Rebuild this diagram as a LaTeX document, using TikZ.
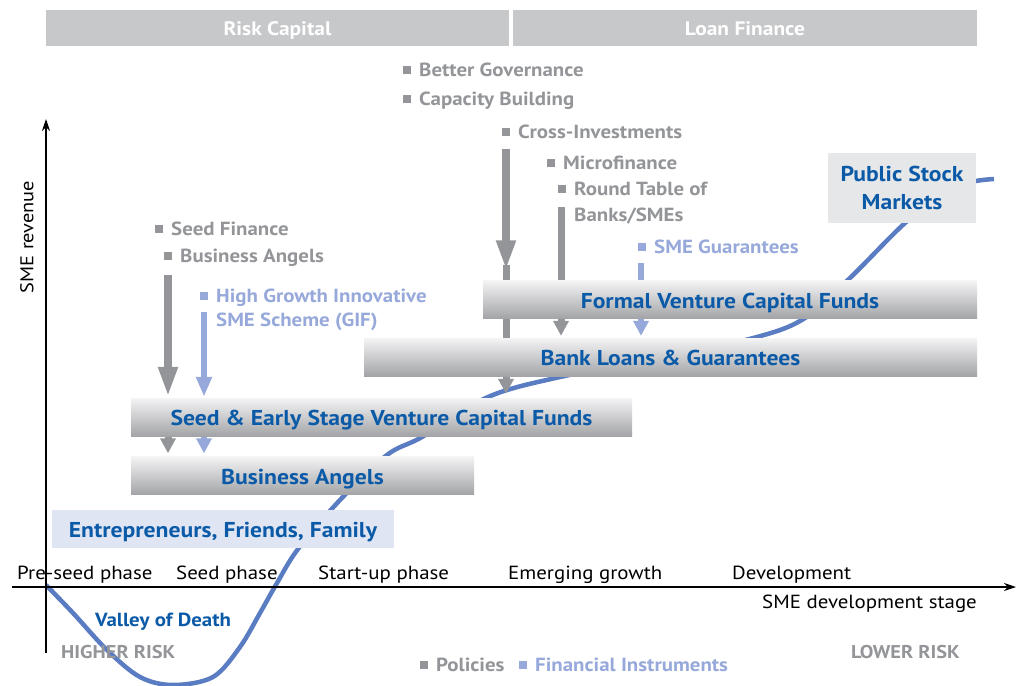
\documentclass[tikz,border=0pt]{standalone}
\usepackage{fontspec}
\setmainfont{PT Sans}[FakeStretch=1.1]
\usetikzlibrary{arrows.meta,shadings}
\definecolor{hdr}{HTML}{C7C8CA}
\definecolor{pgray}{HTML}{939598}
\definecolor{fblue}{HTML}{97A9DA}
\definecolor{dblue}{HTML}{0B5AA8}
\definecolor{curveblue}{HTML}{5A7CC2}
\definecolor{gtop}{HTML}{F4F4F5}
\definecolor{gbot}{HTML}{A3A4A7}
\definecolor{efbox}{HTML}{DFE5F3}
\definecolor{psbox}{HTML}{E6E7E8}
\pgfdeclarelayer{bg}\pgfsetlayers{bg,main}
\newcommand{\sq}[1]{{\color{#1}\rule[2pt]{8pt}{8pt}}\hspace{8pt}}
\begin{document}
\begin{tikzpicture}[x=1pt,y=-1pt,
  hdrbar/.style={fill=hdr, inner sep=0, minimum height=36, text height=14pt, text depth=0pt, font=\fontsize{19.5}{22}\selectfont\bfseries, text=white},
  gradbox/.style={top color=gtop, bottom color=gbot, inner sep=0, minimum height=38, text height=17pt, text depth=0pt, font=\fontsize{21.5}{24}\selectfont\bfseries, text=dblue},
  flatbox/.style={inner sep=0, font=\fontsize{21.5}{28}\selectfont\bfseries, text=dblue, align=center},
  pol/.style={anchor=base west, inner sep=0, font=\fontsize{19}{21}\selectfont\bfseries, text=pgray},
  fin/.style={anchor=base west, inner sep=0, font=\fontsize{19}{21}\selectfont\bfseries, text=fblue},
  phase/.style={anchor=base west, inner sep=0, font=\fontsize{19}{21}\selectfont, text=black},
  risk/.style={anchor=base west, inner sep=0, font=\fontsize{18.5}{20}\selectfont\bfseries, text=pgray},
  axis/.style={line width=1.2pt, -{Stealth[length=12pt,width=8pt]}},
  bigg/.style={draw=pgray, line width=8pt, -{Triangle[width=18pt,length=30pt]}},
  bigb/.style={draw=fblue, line width=6pt, -{Triangle[width=15pt,length=20pt]}},
  smg/.style={draw=pgray, line width=7pt, -{Triangle[width=15pt,length=15pt]}},
  smb/.style={draw=fblue, line width=6pt, -{Triangle[width=15pt,length=15pt]}},
  curve/.style={draw=curveblue, line width=4.5pt}
]
\useasboundingbox (0,0) rectangle (1021,686);

% header bars
\node[hdrbar, minimum width=463] (riskcap) at (277.5,28) {Risk Capital};
\node[hdrbar, minimum width=464] (loanfin) at (745,28) {Loan Finance};

% boxes
\node[gradbox, minimum width=494] (formal) at (730,299.5) {Formal Venture Capital Funds};
\node[gradbox, minimum width=613] (bank) at (670.5,357) {Bank Loans \& Guarantees};
\node[gradbox, minimum width=501] (seed) at (381.5,417) {Seed \& Early Stage Venture Capital Funds};
\node[gradbox, minimum width=343] (angels) at (302.5,475.5) {Business Angels};
\node[flatbox, fill=efbox, minimum width=342, minimum height=38, text height=17pt, text depth=0pt] (eff) at (223,529) {Entrepreneurs, Friends, Family};
\node[flatbox, fill=psbox, minimum width=148, minimum height=70] (psm) at (902,188) {Public Stock\\Markets};

% policy / instrument labels
\node[pol] (bg1) at (403,76) {\sq{pgray}Better Governance};
\node[pol] (cb1) at (403,105) {\sq{pgray}Capacity Building};
\node[pol] (ci1) at (502,138) {\sq{pgray}Cross-Investments};
\node[pol] (mf1) at (547,169) {\sq{pgray}Microfinance};
\node[pol] (rt1) at (558,195) {\sq{pgray}Round Table of};
\node[pol] (rt2) at (574,221) {Banks/SMEs};
\node[fin] (sg1) at (638,253) {\sq{fblue}SME Guarantees};
\node[pol] (sf1) at (155,235) {\sq{pgray}Seed Finance};
\node[pol] (ba1) at (164,262) {\sq{pgray}Business Angels};
\node[fin] (hg1) at (200,302) {\sq{fblue}High Growth Innovative};
\node[fin] (hg2) at (216,326) {SME Scheme (GIF)};

% axes
\coordinate (origin) at (46,587);
\coordinate (yend) at (46,119);
\coordinate (ybot) at (46,653);
\coordinate (xbeg) at (12,587);
\coordinate (xend) at (1016,587);
\draw[axis] (ybot) -- (yend);
\draw[axis] (xbeg) -- (xend);
\node[rotate=90, inner sep=0, font=\fontsize{18.5}{20}\selectfont] (yl) at (27,237) {SME revenue};

% phases
\node[phase] (ph1) at (17,579) {Pre-seed phase};
\node[phase] (ph2) at (176,579) {Seed phase};
\node[phase] (ph3) at (318,579) {Start-up phase};
\node[phase] (ph4) at (508,579) {Emerging growth};
\node[phase] (ph5) at (732,579) {Development};
\node[phase] (xl) at (762,608) {SME development stage};

\node[anchor=base west, inner sep=0, font=\fontsize{19}{22}\selectfont\bfseries, text=dblue] (vod) at (95,626) {Valley of Death};
\node[risk] (hr) at (61,658) {HIGHER RISK};
\node[risk] (lr) at (851,658) {LOWER RISK};
\node[pol] (lgp) at (420,671) {\sq{pgray}Policies};
\node[fin] (lgf) at (519,671) {\sq{fblue}Financial Instruments};

% background: curve and arrows
\begin{pgfonlayer}{bg}
\draw[curve] plot[smooth, tension=0.55] coordinates {(46,585) (73,613) (107,650) (140,677) (173,685) (213,677) (240,647) (260,613) (277,583) (298,549) (340,500) (387,455) (422,437) (488,397) (560,377) (660,358) (757,337) (805,318) (850,278) (905,223) (950,188) (976,181) (994,179)};
\coordinate (a1) at (168,275);
\coordinate (a2) at (204,312);
\coordinate (a3) at (168,437);
\coordinate (a4) at (204,437);
\coordinate (a5) at (506,149);
\coordinate (a5b) at (506,265);
\coordinate (a6) at (561,207);
\coordinate (a7) at (641,263);
\draw[bigg] (a1) -- ([yshift=1pt]a1 |- seed.north);
\draw[bigb] (a2) -- ([yshift=1pt]a2 |- seed.north);
\draw[smg] (a3) -- ([yshift=3pt]a3 |- angels.north);
\draw[smb] (a4) -- ([yshift=3pt]a4 |- angels.north);
\draw[bigg] (a5) -- ([yshift=10pt]a5 |- formal.north);
\draw[smg] (a5b) -- ([yshift=4pt]a5b |- seed.north);
\draw[smg] (a6) -- ([yshift=2pt]a6 |- bank.north);
\draw[smb] (a7) -- ([yshift=2pt]a7 |- bank.north);
\end{pgfonlayer}
\end{tikzpicture}
\end{document}
